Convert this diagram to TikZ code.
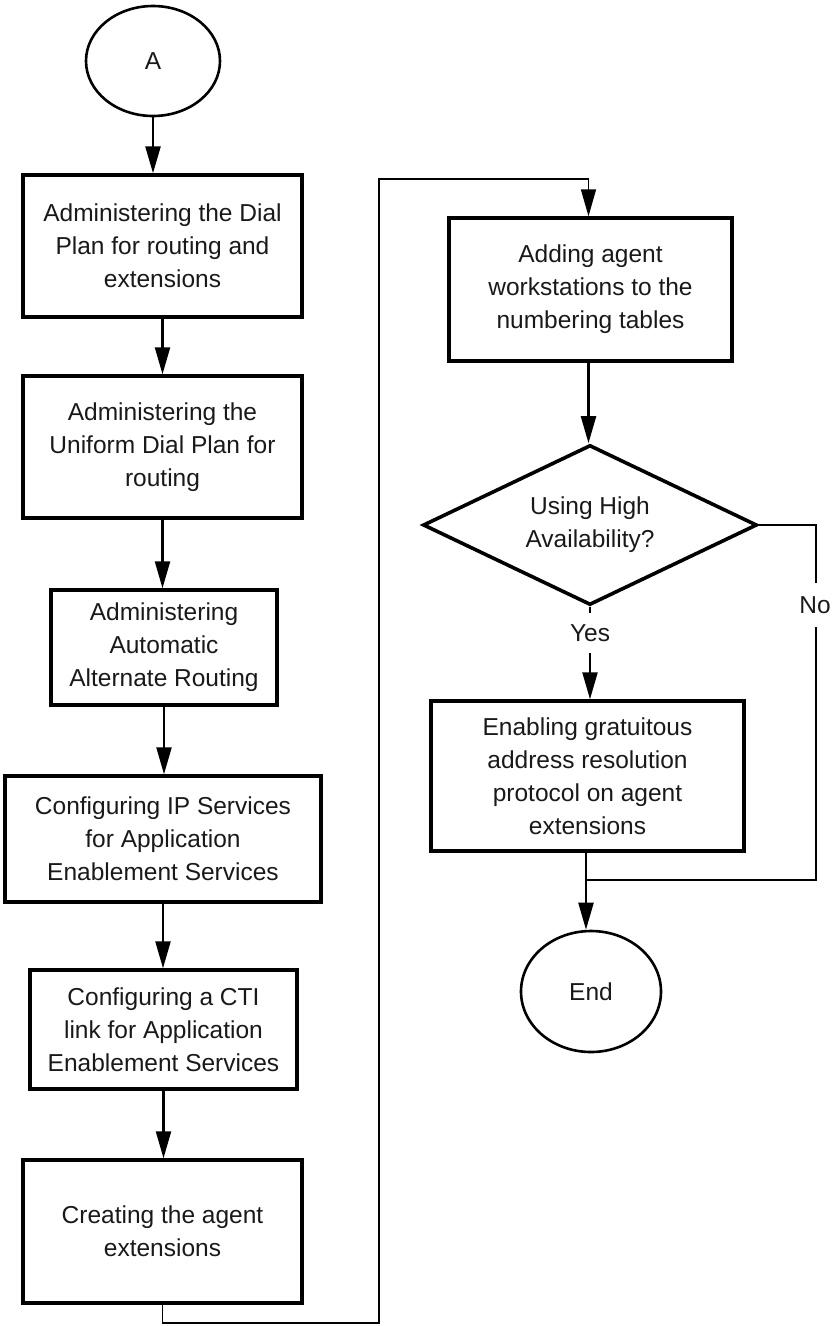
\documentclass[tikz,border=0pt]{standalone}
\usepackage{fontspec}
\setmainfont{Liberation Sans}
\usetikzlibrary{shapes.geometric,arrows.meta}
\begin{document}
\begin{tikzpicture}[x=1pt,y=-1pt,
  every node/.style={font=\fontsize{24.5}{33}\selectfont, text=black!90, align=center, inner sep=0pt},
  stepbox/.style={draw=black, line width=3.4pt, rectangle},
  terminal/.style={draw=black, line width=2.6pt, ellipse},
  decision/.style={draw=black, line width=3.6pt, diamond, minimum width=334pt, minimum height=160pt, aspect=2.09},
  flow/.style={line width=2.2pt, -{Triangle[length=27pt,width=15pt]}},
  route/.style={line width=1.6pt},
  routearrow/.style={line width=1.6pt, -{Triangle[length=27pt,width=15pt]}}
]
\useasboundingbox (0,0) rectangle (832,1326);

% start terminal
\node[terminal, minimum width=134pt, minimum height=110pt] (A) at (153,61) {A};

% left column of steps
\node[stepbox, minimum width=279pt, minimum height=142pt] (b1) at (162.5,246)
  {Administering the Dial\\Plan for routing and\\extensions};
\node[stepbox, minimum width=279pt, minimum height=142pt] (b2) at (162.5,447)
  {Administering the\\Uniform Dial Plan for\\routing};
\node[stepbox, minimum width=226pt, minimum height=115pt] (b3) at (164,647.5)
  {Administering\\Automatic\\Alternate Routing};
\node[stepbox, minimum width=316pt, minimum height=126pt] (b4) at (163,839)
  {Configuring IP Services\\for Application\\Enablement Services};
\node[stepbox, minimum width=267pt, minimum height=119pt] (b5) at (163.5,1029.5)
  {Configuring a CTI\\link for Application\\Enablement Services};
\node[stepbox, minimum width=279pt, minimum height=143pt] (b6) at (162.5,1231.5)
  {Creating the agent\\extensions};

% right column
\node[stepbox, minimum width=283pt, minimum height=143pt] (b7) at (590.5,289.5)
  {Adding agent\\workstations to the\\numbering tables};
\node[decision] (dia) at (590,525) {Using High\\Availability?};
\node[minimum height=40pt] (yes) at (590,633) {Yes};
\node[minimum height=44pt] (no) at (815,605) {No};
\node[stepbox, minimum width=313pt, minimum height=150pt] (b8) at (587.5,776)
  {Enabling gratuitous\\address resolution\\protocol on agent\\extensions};
\node[terminal, minimum width=140pt, minimum height=121pt] (end) at (591,991.5) {End};

% routing points
\coordinate (loopB) at (379,1323);
\coordinate (loopT) at (379,179);
\coordinate (join) at (586,880);

% connectors
\draw[flow, line width=2.6pt] (A.south) -- (A.south |- b1.north);
\draw[flow] (b1.south) -- (b2.north);
\draw[flow] (b2.south) -- (b2.south |- b3.north);
\draw[flow] (b3.south) -- (b3.south |- b4.north);
\draw[flow] (b4.south) -- (b4.south |- b5.north);
\draw[flow] (b5.south) -- (b5.south |- b6.north);
\draw[routearrow] (b6.south) |- (loopB) -- (loopT) -| ([xshift=-2pt]b7.north);
\draw[flow] ([xshift=-2pt]b7.south) -- ([xshift=-2pt]b7.south |- dia.north);
\draw[line width=2pt] (dia.south) -- (yes.north);
\draw[flow] (yes.south) -- (yes.south |- b8.north);
\draw[route] (dia.east) -| ([xshift=1pt]no.north);
\draw[route] ([xshift=1pt]no.south) |- (join);
\draw[flow] ([xshift=-1.5pt]b8.south) -- ([xshift=-1.5pt]b8.south |- end.north);
\end{tikzpicture}
\end{document}
